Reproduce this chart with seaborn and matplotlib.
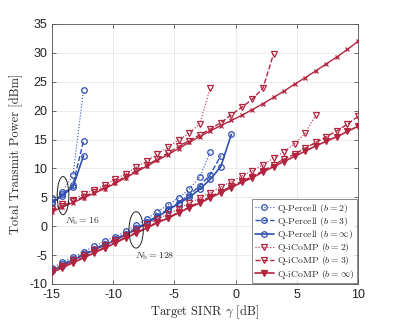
import numpy as np
import pandas as pd
import seaborn as sns
import matplotlib.pyplot as plt
from matplotlib.patches import Ellipse

# target SINR grid [dB]
sinr = [-15.000, -14.138, -13.276, -12.414, -11.552, -10.690, -9.828, -8.966,
        -8.103, -7.241, -6.379, -5.517, -4.655, -3.793, -2.931, -2.069,
        -1.207, -0.345, 0.517, 1.379, 2.241, 3.103, 3.966, 4.828,
        5.690, 6.552, 7.414, 8.276, 9.138, 10.000]

# N_b = 16
percell16_b2 = [4.8, 6.0, 8.8, 23.6]
percell16_b3 = [4.2, 5.5, 7.2, 14.8]
percell16_inf = [4.0, 5.3, 6.8, 12.2]
icomp16_b2 = [2.9, 3.8, 4.6, 5.5, 6.3, 7.1, 8.1, 9.1, 10.2, 11.3, 12.5, 13.7,
              14.9, 16.1, 17.7, 23.9]
icomp16_b3 = [2.7, 3.5, 4.3, 5.1, 5.9, 6.7, 7.6, 8.6, 9.6, 10.6, 11.6, 12.7,
              13.8, 14.8, 15.8, 16.8, 17.9, 19.3, 20.6, 22.0, 23.9, 29.8]
icomp16_inf = [2.5, 3.3, 4.1, 4.9, 5.7, 6.5, 7.4, 8.4, 9.4, 10.4, 11.4, 12.4,
               13.45, 14.5, 15.5, 16.5, 17.4, 18.3, 19.2, 20.2, 21.2, 22.3,
               23.4, 24.6, 25.7, 26.9, 28.1, 29.3, 30.6, 32.0]

# N_b = 128
percell128_b2 = [-7.3, -6.2, -5.4, -4.4, -3.5, -2.6, -1.8, -0.9, 0.2, 1.3, 2.5,
                 3.7, 4.9, 6.4, 8.5, 12.8]
percell128_b3 = [-7.6, -6.6, -5.7, -4.8, -3.9, -3.1, -2.2, -1.3, -0.3, 0.7, 1.8,
                 2.9, 4.1, 5.4, 7.0, 8.9, 12.2]
percell128_inf = [-7.7, -6.8, -5.9, -5.0, -4.1, -3.3, -2.4, -1.5, -0.5, 0.5, 1.6,
                  2.8, 3.9, 5.0, 6.4, 8.1, 10.3, 15.9]
icomp128_b2 = [-7.6, -6.8, -5.9, -5.0, -4.1, -3.3, -2.4, -1.5, -0.6, 0.3, 1.2,
               2.1, 3.0, 4.0, 4.9, 5.8, 6.8, 7.7, 8.7, 9.6, 10.6, 11.8, 12.9,
               14.3, 16.1, 19.25]
icomp128_b3 = [-7.9, -7.1, -6.2, -5.4, -4.5, -3.7, -2.8, -1.9, -1.1, -0.2, 0.7,
               1.5, 2.4, 3.3, 4.2, 5.1, 6.0, 6.9, 7.8, 8.6, 9.6, 10.6, 11.6,
               12.5, 13.5, 14.5, 15.5, 16.5, 17.65, 19.0]
icomp128_inf = [-8.0, -7.2, -6.3, -5.5, -4.6, -3.8, -2.9, -2.0, -1.2, -0.3, 0.6,
                1.4, 2.3, 3.2, 4.0, 4.9, 5.8, 6.7, 7.6, 8.4, 9.4, 10.3, 11.2,
                12.1, 13.0, 13.9, 14.7, 15.5, 16.4, 17.3]

blue = "#2f4fae"
red = "#b3243f"

sns.set_style("whitegrid")
plt.rcParams["font.family"] = ["Liberation Sans", "DejaVu Sans"]
plt.rcParams["mathtext.fontset"] = "cm"
serif = "cmr10"

fig = plt.figure(figsize=(3.96, 3.2), dpi=100)
ax = fig.add_axes([0.131, 0.1125, 0.773, 0.8125])


def draw(y, color, ls, lw, marker, ms, filled, label=None):
    sns.lineplot(x=sinr[:len(y)], y=y, ax=ax, color=color, linestyle=ls,
                 linewidth=lw, marker=marker, markersize=ms,
                 markerfacecolor=color if filled else "none",
                 markeredgecolor=color, markeredgewidth=0.9,
                 label=label, legend=False, sort=False, zorder=3)


# N_b = 128 curves (with legend labels)
draw(percell128_b2, blue, ":", 0.8, "o", 4, False, r"Q-Percell ($b=2$)")
draw(percell128_b3, blue, "--", 1.0, "o", 4, False, r"Q-Percell ($b=3$)")
draw(percell128_inf, blue, "-", 1.2, "o", 4, False, r"Q-Percell ($b=\infty$)")
draw(icomp128_b2, red, ":", 0.8, "v", 4.5, False, r"Q-iCoMP ($b=2$)")
draw(icomp128_b3, red, "--", 1.0, "v", 4.5, False, r"Q-iCoMP ($b=3$)")
draw(icomp128_inf, red, "-", 1.2, "v", 4.5, True, r"Q-iCoMP ($b=\infty$)")

# N_b = 16 curves
draw(percell16_b2, blue, ":", 0.8, "o", 4, False)
draw(percell16_b3, blue, "--", 1.0, "o", 4, False)
draw(percell16_inf, blue, "-", 1.2, "o", 4, False)
draw(icomp16_b2, red, ":", 0.8, "v", 4.5, False)
draw(icomp16_b3, red, "--", 1.0, "v", 4.5, False)
draw(icomp16_inf, red, "-", 1.0, "x", 2.5, True)

# ellipses + annotations
ax.add_patch(Ellipse((-14.09, 5.3), 0.95, 6.6, fill=False, ec="#222222", lw=0.7, zorder=4))
ax.add_patch(Ellipse((-8.12, -0.64), 1.17, 6.3, fill=False, ec="#222222", lw=0.7, zorder=4))
ax.text(-13.95, 0.8, r"$N_\mathrm{b}=16$", fontsize=7, va="center", ha="left")
ax.text(-8.25, -5.1, r"$N_\mathrm{b}=128$", fontsize=7, va="center", ha="left")

ax.set_xlim(-15, 10)
ax.set_ylim(-10, 35)
ax.set_xticks([-15, -10, -5, 0, 5, 10])
ax.set_yticks(range(-10, 36, 5))
ax.set_xticklabels(["-15", "-10", "-5", "0", "5", "10"])
ax.set_yticklabels([str(v) for v in range(-10, 36, 5)])
ax.tick_params(labelsize=9, direction="in", length=3, width=0.5,
               top=True, right=True, bottom=True, left=True, colors="#333333",
               labelcolor="#222222")
ax.grid(True, color="#e4e4e4", linewidth=0.5)
for s in ax.spines.values():
    s.set_color("#555555")
    s.set_linewidth(0.6)

ax.set_xlabel(r"Target SINR $\gamma$ [dB]", fontsize=9, family=serif, labelpad=2)
ax.set_ylabel("Total Transmit Power [dBm]", fontsize=9, family=serif, labelpad=4)

leg = ax.legend(loc="lower right", frameon=True, fancybox=False,
                borderaxespad=0.1, handlelength=2.0, handletextpad=0.3,
                labelspacing=0.02, borderpad=0.25,
                prop={"family": serif, "size": 7})
leg.get_frame().set_edgecolor("#555555")
leg.get_frame().set_linewidth(0.6)

plt.savefig("out.png", dpi=100)
